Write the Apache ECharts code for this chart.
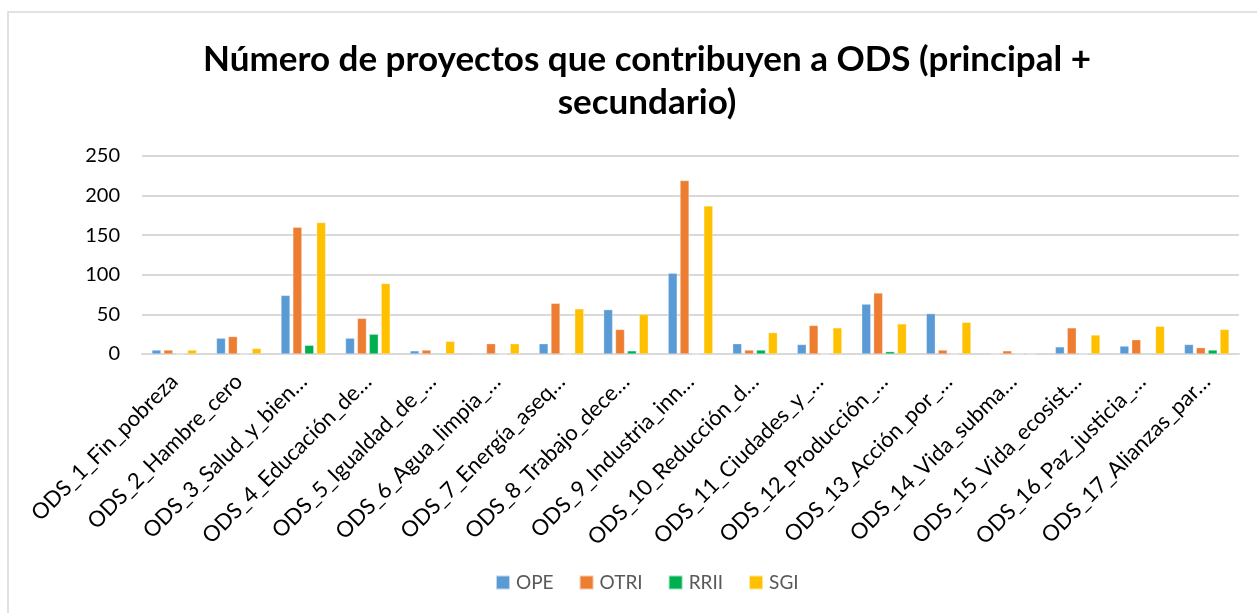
<!DOCTYPE html>
<html>
<head>
<meta charset="utf-8">
<script src="https://cdn.jsdelivr.net/npm/echarts@6/dist/echarts.min.js"></script>
<style>
  html, body { margin: 0; padding: 0; background: #fff; }
  #diagram { width: 1257px; height: 613px; }
</style>
</head>
<body>
<div id="diagram"></div>
<script>
var categories = [
  "ODS_1_Fin_pobreza", "ODS_2_Hambre_cero", "ODS_3_Salud_y_bien…",
  "ODS_4_Educación_de…", "ODS_5_Igualdad_de_…", "ODS_6_Agua_limpia_…",
  "ODS_7_Energía_aseq…", "ODS_8_Trabajo_dece…", "ODS_9_Industria_inn…",
  "ODS_10_Reducción_d…", "ODS_11_Ciudades_y_…", "ODS_12_Producción_…",
  "ODS_13_Acción_por_…", "ODS_14_Vida_subma…", "ODS_15_Vida_ecosist…",
  "ODS_16_Paz_justicia_…", "ODS_17_Alianzas_par…"
];
var ope  = [5, 20, 74, 20, 4, 1, 13, 56, 102, 13, 12, 63, 51, 0, 9, 10, 12];
var otri = [5, 22, 160, 45, 5, 13, 64, 31, 219, 5, 36, 77, 5, 4, 33, 18, 8];
var rrii = [0, 0, 11, 25, 1, 0, 0, 4, 0, 5, 0, 3, 0, 0, 0, 1, 5];
var sgi  = [5, 7, 166, 89, 16, 13, 57, 50, 187, 27, 33, 38, 40, 0, 24, 35, 31];
var yTicks = [0, 50, 100, 150, 200, 250];

var myChart = echarts.init(document.getElementById("diagram"));

function bar(name, data) {
  return {
    name: name,
    type: "bar",
    data: data,
    barWidth: 9,
    barGap: "32%",
    itemStyle: { borderColor: "rgba(255,255,255,0.6)", borderWidth: 0.5 }
  };
}

var option = {
  animation: false,
  color: ["#5B9BD5", "#ED7D31", "#00B050", "#FFC000"],
  textStyle: { fontFamily: "Lato" },
  graphic: [{
    type: "rect",
    shape: { x: 8, y: 12, width: 1262, height: 610 },
    style: { fill: "none", stroke: "#D9D9D9", lineWidth: 1.5 },
    z: -1
  }],
  title: {
    text: "Número de proyectos que contribuyen a ODS (principal +\nsecundario)",
    left: 642,
    textAlign: "center",
    top: 33,
    textStyle: {
      fontFamily: "Lato",
      fontWeight: "bold",
      fontSize: 35,
      lineHeight: 43,
      color: "#000"
    }
  },
  legend: {
    top: 568,
    left: 490,
    itemWidth: 14,
    itemHeight: 14,
    itemGap: 25,
    icon: "rect",
    textStyle: { fontFamily: "Lato", fontSize: 19, color: "#595959", padding: [0, 0, 0, 1] },
    data: ["OPE", "OTRI", "RRII", "SGI"]
  },
  grid: { left: 142, right: 18, top: 156, bottom: 259 },
  xAxis: {
    type: "category",
    data: categories,
    axisLine: { lineStyle: { color: "#D9D9D9", width: 2 } },
    axisTick: { show: false },
    axisLabel: {
      rotate: 45,
      interval: 0,
      margin: 24,
      fontFamily: "Lato",
      fontSize: 22,
      color: "#000"
    }
  },
  yAxis: {
    type: "value",
    min: yTicks[0],
    max: yTicks[yTicks.length - 1],
    interval: 50,
    axisLine: { show: false },
    axisTick: { show: false },
    splitLine: { lineStyle: { color: "#D9D9D9", width: 2 } },
    axisLabel: { fontFamily: "Lato", fontSize: 20, color: "#000", margin: 22 }
  },
  series: [
    bar("OPE", ope),
    bar("OTRI", otri),
    bar("RRII", rrii),
    bar("SGI", sgi)
  ]
};
myChart.setOption(option);
</script>
</body>
</html>
